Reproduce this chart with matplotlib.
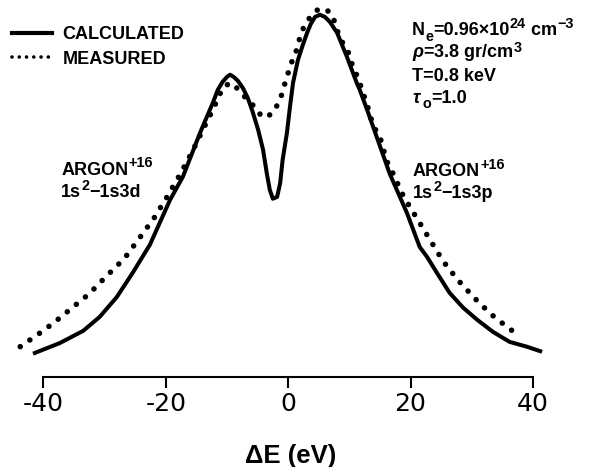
"""
Argon line profile: calculated vs measured (arb. intensity units)
"""

import matplotlib.pyplot as plt
from matplotlib.lines import Line2D

# calculated profile (energy shift in eV, relative intensity)
calc_de = [-41.7, -37.3, -33.5, -30.8, -28.0, -25.4, -22.6, -19.3, -17.2, -14.4,
           -12.3, -11.5, -10.7, -10.0, -9.5, -8.9, -8.2, -7.4, -6.6, -5.8,
           -4.9, -4.1, -3.5, -3.0, -2.5, -1.8, -1.3, -0.9, -0.2, 0.3,
           0.8, 1.6, 2.4, 3.1, 3.7, 4.4, 5.2, 6.0, 6.8, 8.0,
           9.6, 11.2, 11.7, 12.9, 13.9, 16.6, 19.4, 21.5, 22.7, 24.3,
           26.4, 28.6, 30.9, 33.5, 36.2, 39.0, 41.5]
calc_int = [6.3, 9.2, 12.5, 16.3, 21.7, 28.3, 35.9, 48.1, 54.4, 66.3,
            74.5, 78.0, 80.2, 81.5, 82.1, 81.5, 80.4, 78.5, 75.8, 72.0,
            67.1, 61.7, 55.4, 50.8, 48.4, 48.9, 52.7, 59.0, 66.3, 73.4,
            79.9, 86.1, 90.2, 93.5, 95.9, 97.8, 98.4, 97.8, 96.5, 93.5,
            87.0, 79.9, 78.0, 72.6, 67.9, 55.2, 44.6, 35.3, 32.6, 28.3,
            22.8, 18.8, 15.5, 12.2, 9.5, 8.2, 6.8]

# measured profile
meas_de = [-43.8, -41.0, -38.3, -35.5, -32.5, -29.8, -26.8, -24.4, -21.9, -19.8,
           -17.7, -15.7, -14.1, -12.3, -10.7, -9.5, -8.4, -7.1, -5.9, -5.1,
           -3.8, -2.5, -1.3, -0.7, 0.0, 0.6, 1.4, 1.9, 2.7, 3.9,
           5.0, 6.3, 7.2, 8.1, 8.9, 9.8, 10.6, 11.4, 12.2, 13.0,
           13.9, 15.0, 16.1, 17.1, 18.9, 21.0, 23.2, 25.3, 27.7, 30.4,
           33.1, 36.2, 38.0]
meas_int = [8.2, 11.4, 14.7, 18.5, 22.6, 27.2, 32.1, 37.5, 43.2, 48.9,
            54.9, 61.1, 66.6, 72.6, 78.5, 79.9, 78.5, 76.1, 74.2, 72.0,
            70.4, 71.7, 75.3, 78.8, 82.6, 85.6, 88.9, 92.1, 95.7, 98.4,
            100.0, 99.7, 98.4, 93.8, 90.8, 88.3, 84.2, 81.3, 77.4, 73.4,
            68.2, 65.2, 58.7, 55.4, 48.9, 43.2, 37.2, 31.5, 26.4, 21.5,
            17.1, 13.0, 11.1]

xticks = [-40, -20, 0, 20, 40]

# fonts
plt.rcParams['font.family'] = 'DejaVu Sans'
plt.rcParams['axes.unicode_minus'] = False
plt.rcParams['mathtext.fontset'] = 'custom'
plt.rcParams['mathtext.rm'] = 'Liberation Sans:bold'
plt.rcParams['mathtext.bf'] = 'Liberation Sans:bold'
plt.rcParams['mathtext.it'] = 'Liberation Sans:italic:bold'
tf = dict(family='Liberation Sans', weight='bold')


def rich_text(ax, x, y, parts, size):
    # chain text pieces so sub/superscripts can be bigger than mathtext allows
    base = ax.text(x, y, parts[0][0], fontsize=size, va='baseline', **tf)
    prev = base
    d = 0.21 * size
    for s, kind in parts[1:]:
        if kind == 'sup':
            fs, rise = 0.8 * size, 0.42 * size
        elif kind == 'sub':
            fs, rise = 0.8 * size, -0.3 * size
        else:
            fs, rise = size, 0
        prev = ax.annotate(s, xy=(1, 0), xycoords=(prev, base),
                           xytext=(0.2, d + rise), textcoords='offset points',
                           fontsize=fs, va='baseline', ha='left', **tf)
    return base


plt.close('all')
fig = plt.figure(figsize=(6.02, 4.67), dpi=100)
ax = fig.add_axes([0, 0, 1, 1])

dots = (0, (0.01, 2.1))
ax.plot(calc_de, calc_int, color='k', lw=2.9, solid_capstyle='butt', solid_joinstyle='round')
ax.plot(meas_de, meas_int, color='k', lw=4.0, ls=dots, dash_capstyle='round')

ax.set_xlim(-47.1, 51.3)
ax.set_ylim(-24.5, 102.4)

# only the energy axis, drawn at zero intensity
for s in ['top', 'left', 'right']:
    ax.spines[s].set_visible(False)
ax.spines['bottom'].set_position(('data', 0))
ax.spines['bottom'].set_bounds(-40, 40)
ax.spines['bottom'].set_linewidth(1.5)
ax.set_xticks(xticks)
ax.set_yticks([])
ax.tick_params(axis='x', direction='out', length=8, width=1.5, pad=3, labelsize=18)
ax.set_facecolor('none')

ax.text(0.46, -23.4, '\u0394E (eV)', ha='center', va='baseline', fontsize=18.5, **tf)

# legend with proxy handles
h = [Line2D([], [], color='k', lw=3.0),
     Line2D([], [], color='k', lw=2.6, ls=(0, (0.01, 2.0)), dash_capstyle='round')]
ax.legend(h, ['CALCULATED', 'MEASURED'], loc='upper left',
          bbox_to_anchor=(12 / 602, 1 - 26 / 467), frameon=False,
          prop=dict(family='Liberation Sans', weight='bold', size=13),
          handlelength=2.2, handletextpad=0.6, labelspacing=0.42,
          borderpad=0, borderaxespad=0)

# plasma parameters
fs = 13
rich_text(ax, 20.2, 92.9, [('N', 'n'), ('e', 'sub'), ('=0.96\u00d710', 'n'),
                           ('24', 'sup'), (' cm', 'n'), ('\u22123', 'sup')], fs)
rich_text(ax, 20.2, 86.8, [('$\\rho$=3.8 gr/cm', 'n'), ('3', 'sup')], fs)
rich_text(ax, 20.2, 80.3, [('T=0.8 keV', 'n')], fs)
rich_text(ax, 20.2, 74.5, [('$\\tau$', 'n'), ('o', 'sub'), ('=1.0', 'n')], fs)

# line labels
rich_text(ax, -37.1, 54.9, [('ARGON', 'n'), ('+16', 'sup')], 13)
rich_text(ax, -37.1, 48.9, [('1s', 'n'), ('2', 'sup'), ('\u22121s3d', 'n')], 13)
rich_text(ax, 20.4, 54.6, [('ARGON', 'n'), ('+16', 'sup')], 13)
rich_text(ax, 20.4, 48.6, [('1s', 'n'), ('2', 'sup'), ('\u22121s3p', 'n')], 13)

fig.savefig('out.png', dpi=100, facecolor='white')
